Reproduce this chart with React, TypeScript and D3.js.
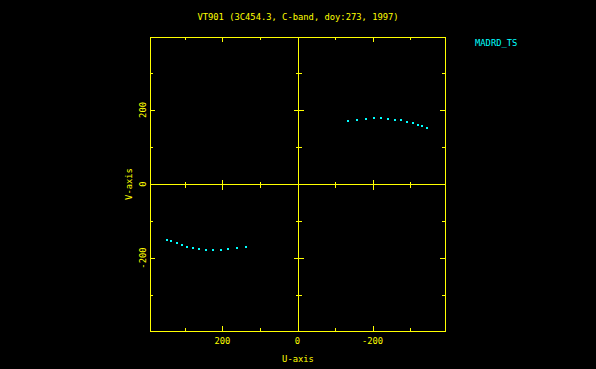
import React, { useRef, useEffect } from 'react';
import * as d3 from 'd3';

// baseline MADRD-TS, upper branch (u, v)
const uUpper = [-134, -159, -182, -203, -223, -241, -260, -277, -292, -307, -320, -333, -345];
const vUpper = [169, 173, 176, 177, 177, 176, 174, 172, 168, 165, 160, 156, 150];
// conjugate branch
const uLower = [347, 336, 322, 309, 294, 278, 262, 244, 225, 205, 184, 161, 138];
const vLower = [-150, -155, -160, -166, -170, -173, -175, -177, -178, -177, -176, -174, -170];

const majorTicks = [-200, 0, 200];
const minorTicks = [-300, -100, 100, 300];
const tickLabels = ['-200', '0', '200'];

const title = 'VT901 (3C454.3, C-band, doy:273, 1997)';
const legend = 'MADRD_TS';

const YEL = '#ffff00';
const CYAN = '#00ffff';
const FONT = '"DejaVu Sans Mono", monospace';

function App() {
  const ref = useRef<SVGSVGElement>(null);

  useEffect(() => {
    document.body.style.margin = '0';
    const svg = d3.select(ref.current);
    svg.selectAll('*').remove();

    const left = 150, right = 445, top = 37, bottom = 331;

    const x = d3.scaleLinear().domain([393, -393]).range([left, right]);
    const y = d3.scaleLinear().domain([-397, 397]).range([bottom, top]);

    svg.append('rect').attr('width', 596).attr('height', 369).attr('fill', '#000');

    const g = svg.append('g')
      .attr('stroke', YEL)
      .attr('stroke-width', 1)
      .attr('fill', 'none')
      .attr('shape-rendering', 'crispEdges');

    // frame
    g.append('rect')
      .attr('x', left + 0.5).attr('y', top + 0.5)
      .attr('width', right - left).attr('height', bottom - top);

    // zero lines
    g.append('line').attr('x1', Math.round(x(0)) + 0.5).attr('x2', Math.round(x(0)) + 0.5)
      .attr('y1', top).attr('y2', bottom);
    g.append('line').attr('y1', Math.round(y(0)) + 0.5).attr('y2', Math.round(y(0)) + 0.5)
      .attr('x1', left).attr('x2', right);

    const ticks = [
      ...majorTicks.map(v => ({ v, len: 5 })),
      ...minorTicks.map(v => ({ v, len: 3 })),
    ];

    ticks.forEach(({ v, len }) => {
      const px = Math.round(x(v)) + 0.5;
      const py = Math.round(y(v)) + 0.5;
      const x0 = Math.round(x(0)) + 0.5;
      const y0 = Math.round(y(0)) + 0.5;
      // top / bottom edges
      g.append('line').attr('x1', px).attr('x2', px).attr('y1', top).attr('y2', top + len);
      g.append('line').attr('x1', px).attr('x2', px).attr('y1', bottom).attr('y2', bottom - len);
      // left / right edges
      g.append('line').attr('y1', py).attr('y2', py).attr('x1', left).attr('x2', left + len);
      g.append('line').attr('y1', py).attr('y2', py).attr('x1', right).attr('x2', right - len);
      // on zero axes
      if (v !== 0) {
        g.append('line').attr('x1', px).attr('x2', px).attr('y1', y0 - len).attr('y2', y0 + len);
        g.append('line').attr('y1', py).attr('y2', py).attr('x1', x0 - len).attr('x2', x0 + len);
      }
    });

    const txt = (s: string, tx: number, ty: number, anchor = 'middle', rot = 0, color = YEL) =>
      svg.append('text')
        .attr('transform', `translate(${tx},${ty}) rotate(${rot})`)
        .attr('text-anchor', anchor)
        .attr('fill', color)
        .attr('font-family', FONT)
        .attr('font-size', 8.8)
        .text(s);

    txt(title, 298, 19.5);
    txt(legend, 475, 45.5, 'start', 0, CYAN);

    majorTicks.forEach((v, i) => {
      txt(tickLabels[i], x(v), 343.5);
      txt(tickLabels[i], 145.5, y(v), 'middle', -90);
    });

    txt('U-axis', 298, 361.5);
    txt('V-axis', 131.5, 184, 'middle', -90);

    const pts = [
      ...uUpper.map((u, i) => [u, vUpper[i]]),
      ...uLower.map((u, i) => [u, vLower[i]]),
    ];

    svg.append('g')
      .attr('fill', CYAN)
      .selectAll('rect')
      .data(pts)
      .enter()
      .append('rect')
      .attr('x', d => Math.round(x(d[0])) - 1)
      .attr('y', d => Math.round(y(d[1])) - 1)
      .attr('width', 2)
      .attr('height', 2);
  }, []);

  return (
    <svg
      ref={ref}
      width={596}
      height={369}
      style={{ display: 'block', position: 'absolute', left: 0, top: 0 }}
    />
  );
}

export default App;
